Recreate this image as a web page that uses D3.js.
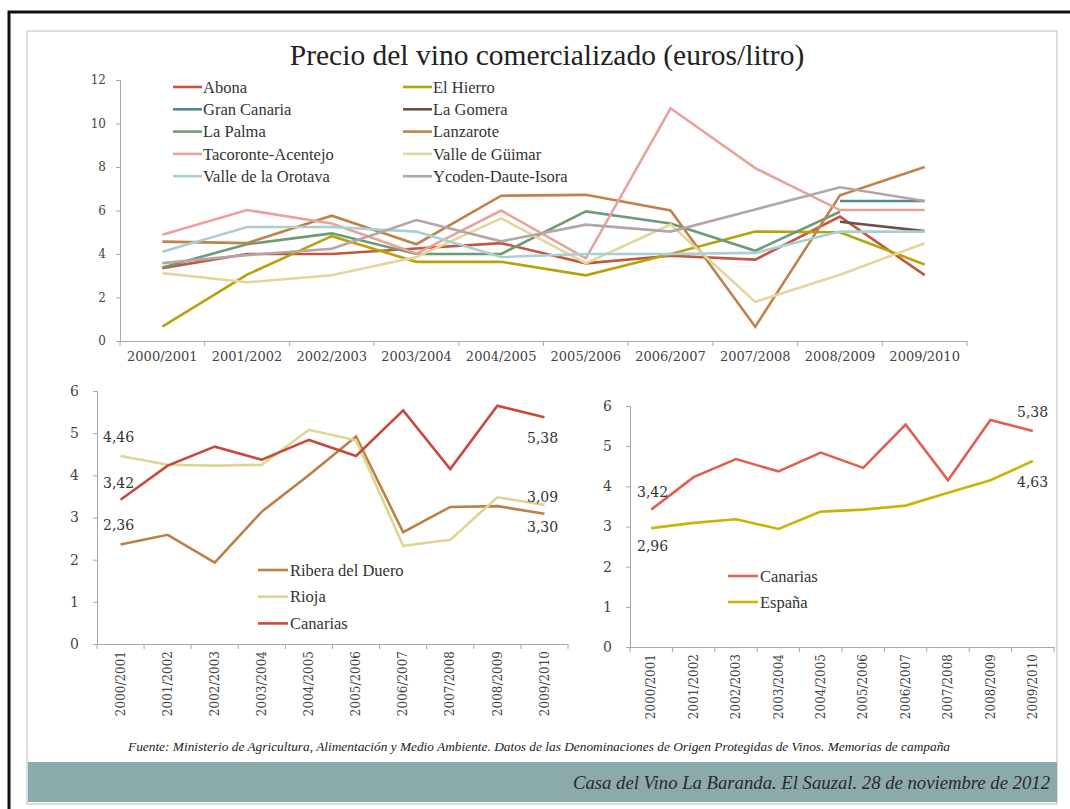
<!DOCTYPE html>
<html>
<head>
<meta charset="utf-8">
<script src="https://cdn.jsdelivr.net/npm/d3@7"></script>
<style>
  body { margin: 0; background: #fff; }
  svg { display: block; font-family: "Liberation Serif", serif; }
  .axis { font-family: "DejaVu Serif", serif; }
  .axis path, .axis line { stroke: #a8a8a8; }
  .axis text { fill: #444; }
</style>
</head>
<body>
<div id="chart"></div>
<script>
const width = 1070;
const height = 809;

// campañas
const campaigns = ["2000/2001", "2001/2002", "2002/2003", "2003/2004", "2004/2005",
                   "2005/2006", "2006/2007", "2007/2008", "2008/2009", "2009/2010"];

// gráfico superior: denominaciones de origen canarias
const doNames = ["Abona", "El Hierro", "Gran Canaria", "La Gomera", "La Palma", "Lanzarote",
                 "Tacoronte-Acentejo", "Valle de Güimar", "Valle de la Orotava", "Ycoden-Daute-Isora"];
const doColors = ["#c4553f", "#b5a30c", "#4f8b8c", "#6b5049", "#6c9c77", "#c0824a",
                  "#e9a29b", "#e2d69b", "#a9cfd4", "#b3a5a8"];
const abona = [3.35, 4.0, 4.0, 4.25, 4.5, 3.57, 3.92, 3.74, 5.72, 3.03];
const elHierro = [0.66, 3.05, 4.82, 3.64, 3.64, 3.02, 4.0, 5.03, 5.0, 3.52];
const granCanaria = [null, null, null, null, null, null, null, null, 6.44, 6.44];
const laGomera = [null, null, null, null, null, null, null, null, 5.48, 5.05];
const laPalma = [3.38, 4.45, 4.95, 4.0, 4.0, 5.96, 5.4, 4.15, 5.94, null];
const lanzarote = [4.57, 4.5, 5.76, 4.45, 6.68, 6.72, 6.0, 0.66, 6.7, 8.0];
const tacoronte = [4.88, 6.02, 5.4, 4.02, 6.0, 3.8, 10.7, 7.95, 6.02, 6.02];
const guimar = [3.12, 2.7, 3.02, 3.86, 5.64, 3.57, 5.35, 1.8, 3.05, 4.49];
const orotava = [4.1, 5.24, 5.24, 5.03, 3.86, 4.0, 4.0, 4.05, 5.03, 5.03];
const ycoden = [3.58, 3.95, 4.24, 5.56, 4.58, 5.35, 5.03, 6.05, 7.07, 6.44];
const doSeries = [abona, elHierro, granCanaria, laGomera, laPalma, lanzarote,
                  tacoronte, guimar, orotava, ycoden];
const topTicks = [0, 2, 4, 6, 8, 10, 12];

// gráfico inferior izquierdo
const riberaDuero = [2.36, 2.59, 1.93, 3.14, 4.01, 4.92, 2.65, 3.25, 3.27, 3.09];
const rioja = [4.46, 4.25, 4.23, 4.25, 5.08, 4.83, 2.33, 2.47, 3.48, 3.30];
const canarias = [3.42, 4.23, 4.68, 4.37, 4.84, 4.46, 5.54, 4.15, 5.65, 5.38];
// gráfico inferior derecho
const espana = [2.96, 3.09, 3.18, 2.94, 3.37, 3.42, 3.52, 3.84, 4.15, 4.63];
const smallTicks = [0, 1, 2, 3, 4, 5, 6];

const svg = d3.select("#chart").append("svg")
    .attr("width", width)
    .attr("height", height);

// marco negro y panel
svg.append("path")
    .attr("d", "M9,809 V12 H1070")
    .attr("fill", "none").attr("stroke", "#111").attr("stroke-width", 3);
svg.append("rect")
    .attr("x", 27).attr("y", 31).attr("width", 1030).attr("height", 773)
    .attr("fill", "#fff").attr("stroke", "#cbd6d4").attr("stroke-width", 1.5);

// título
svg.append("text")
    .attr("x", 547).attr("y", 65)
    .attr("text-anchor", "middle")
    .attr("font-size", 29.5)
    .attr("fill", "#222")
    .text("Precio del vino comercializado (euros/litro)");

// ---------- gráfico superior ----------
const x1 = d3.scaleBand().domain(campaigns).range([120, 967]);
const y1 = d3.scaleLinear().domain([0, 12]).range([341, 80]);

const gTop = svg.append("g");
gTop.append("g").attr("class", "axis")
    .attr("transform", "translate(120,0)")
    .call(d3.axisLeft(y1).tickValues(topTicks).tickFormat(d3.format("d")).tickSize(4).tickPadding(10))
    .call(g => g.selectAll("text").attr("font-size", 12));
gTop.append("g").attr("class", "axis")
    .attr("transform", "translate(0,341)")
    .call(d3.axisBottom(x1).tickSize(0).tickPadding(11))
    .call(g => g.selectAll("text").attr("font-size", 13));
gTop.selectAll(".xtick")
    .data(campaigns.concat(["end"]))
    .join("line")
    .attr("x1", (d, i) => x1.range()[0] + i * x1.step())
    .attr("x2", (d, i) => x1.range()[0] + i * x1.step())
    .attr("y1", 341).attr("y2", 346)
    .attr("stroke", "#a8a8a8");

const line1 = d3.line()
    .defined(d => d != null)
    .x((d, i) => x1(campaigns[i]) + x1.bandwidth() / 2)
    .y(d => y1(d));

gTop.selectAll(".serie")
    .data(doSeries)
    .join("path")
    .attr("fill", "none")
    .attr("stroke", (d, i) => doColors[i])
    .attr("stroke-width", 2.6)
    .attr("stroke-linejoin", "miter")
    .attr("d", line1);

// leyenda superior
const legTop = gTop.selectAll(".leg")
    .data(doNames)
    .join("g")
    .attr("transform", (d, i) => `translate(${i % 2 ? 403 : 173},${87 + Math.floor(i / 2) * 22.3})`);
legTop.append("line")
    .attr("x1", 0).attr("x2", 29)
    .attr("stroke", (d, i) => doColors[i]).attr("stroke-width", 2.6);
legTop.append("text")
    .attr("x", 30).attr("dy", "0.35em")
    .attr("font-size", 16.5).attr("fill", "#333")
    .text(d => d);

// ---------- gráficos inferiores ----------
function smallChart(opts) {
    const x = d3.scaleBand().domain(campaigns).range([opts.left, opts.right]);
    const y = d3.scaleLinear().domain([0, 6]).range([opts.bottom, opts.top]);
    const g = svg.append("g");

    g.append("g").attr("class", "axis")
        .attr("transform", `translate(${opts.left},0)`)
        .call(d3.axisLeft(y).tickValues(smallTicks).tickFormat(d3.format("d")).tickSize(4).tickPadding(14))
        .call(s => s.selectAll("text").attr("font-size", 14));
    g.append("g").attr("class", "axis")
        .attr("transform", `translate(0,${opts.bottom})`)
        .call(d3.axisBottom(x).tickSize(0))
        .call(s => s.selectAll("text")
            .attr("font-size", 12)
            .attr("text-anchor", "end")
            .attr("transform", "rotate(-90)")
            .attr("x", -7).attr("y", 0).attr("dy", "0.35em"));
    g.selectAll(".xtick")
        .data(campaigns.concat(["end"]))
        .join("line")
        .attr("x1", (d, i) => x.range()[0] + i * x.step())
        .attr("x2", (d, i) => x.range()[0] + i * x.step())
        .attr("y1", opts.bottom).attr("y2", opts.bottom + 5)
        .attr("stroke", "#a8a8a8");

    const line = d3.line()
        .x((d, i) => x(campaigns[i]) + x.bandwidth() / 2)
        .y(d => y(d));

    g.selectAll(".serie")
        .data(opts.series)
        .join("path")
        .attr("fill", "none")
        .attr("stroke", d => d.color)
        .attr("stroke-width", 2.6)
        .attr("d", d => line(d.values));

    const leg = g.selectAll(".leg")
        .data(opts.series.filter(d => d.name))
        .join("g")
        .attr("transform", (d, i) => `translate(${opts.legX},${opts.legY + i * opts.legStep})`);
    leg.append("line").attr("x1", 0).attr("x2", 30)
        .attr("stroke", d => d.color).attr("stroke-width", 2.6);
    leg.append("text").attr("x", 32).attr("dy", "0.35em")
        .attr("font-size", 16.5).attr("fill", "#333")
        .text(d => d.name);

    g.selectAll(".lbl")
        .data(opts.labels)
        .join("text")
        .attr("x", d => d.x).attr("y", d => d.y)
        .attr("font-family", "DejaVu Serif")
        .attr("font-size", 14).attr("fill", "#333")
        .text(d => d.t);
}

smallChart({
    left: 97, right: 568, top: 391, bottom: 644,
    series: [
        { name: "Ribera del Duero", color: "#bd7f45", values: riberaDuero },
        { name: "Rioja", color: "#ddd592", values: rioja },
        { name: "Canarias", color: "#c7493d", values: canarias }
    ],
    legX: 258, legY: 570, legStep: 26.7,
    labels: [
        { t: "4,46", x: 103, y: 442 },
        { t: "3,42", x: 103, y: 488 },
        { t: "2,36", x: 103, y: 530 },
        { t: "5,38", x: 527, y: 443 },
        { t: "3,09", x: 527, y: 502 },
        { t: "3,30", x: 527, y: 532 }
    ]
});

smallChart({
    left: 630, right: 1054, top: 406, bottom: 647,
    series: [
        { name: "Canarias", color: "#e0604f", values: canarias },
        { name: "España", color: "#c9b50a", values: espana }
    ],
    legX: 728, legY: 576, legStep: 26,
    labels: [
        { t: "3,42", x: 637, y: 497 },
        { t: "2,96", x: 637, y: 551 },
        { t: "5,38", x: 1017, y: 417 },
        { t: "4,63", x: 1017, y: 487 }
    ]
});

// fuente
svg.append("text")
    .attr("x", 539).attr("y", 751)
    .attr("text-anchor", "middle")
    .attr("font-size", 12.5).attr("font-style", "italic").attr("fill", "#222")
    .attr("textLength", 822).attr("lengthAdjust", "spacingAndGlyphs")
    .text("Fuente: Ministerio de Agricultura, Alimentación y Medio Ambiente. Datos de las Denominaciones de Origen Protegidas de Vinos. Memorias de campaña");

// banda inferior
svg.append("rect")
    .attr("x", 28).attr("y", 762).attr("width", 1029).attr("height", 40)
    .attr("fill", "#8aabaa");
svg.append("text")
    .attr("x", 1050).attr("y", 789)
    .attr("text-anchor", "end")
    .attr("font-size", 18.7).attr("font-style", "italic").attr("fill", "#2a2a2a")
    .text("Casa del Vino La Baranda.  El Sauzal. 28 de noviembre de 2012");
</script>
</body>
</html>
